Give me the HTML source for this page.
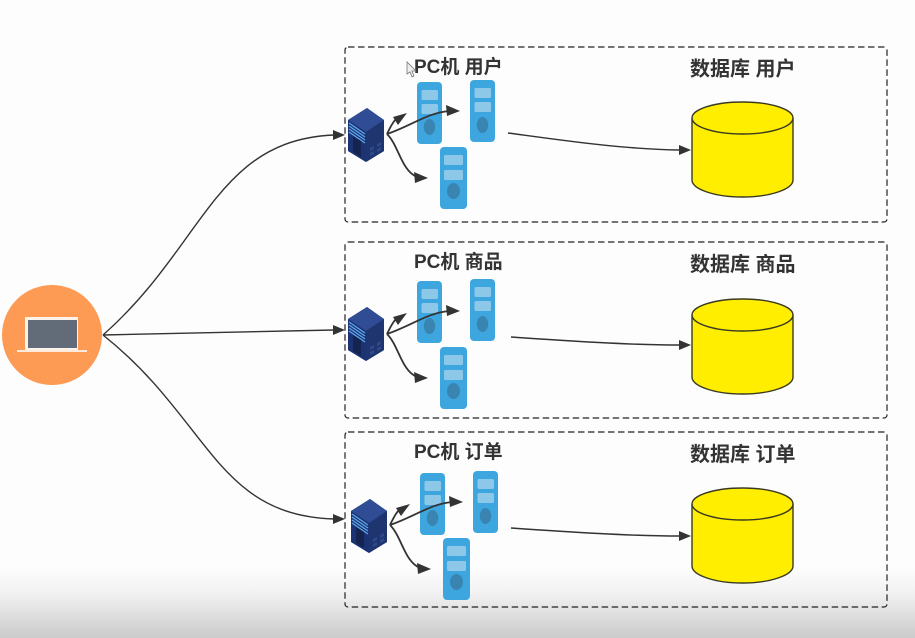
<!DOCTYPE html>
<html><head><meta charset="utf-8"><style>
html,body{margin:0;padding:0;background:#fff}
svg{display:block}
text{font-family:"Liberation Sans","Noto Sans CJK SC",sans-serif;font-weight:700;fill:#333}
</style></head><body>
<svg width="915" height="638" viewBox="0 0 915 638" xmlns="http://www.w3.org/2000/svg">
<defs>
<linearGradient id="bg" x1="0" y1="0" x2="0" y2="1"><stop offset="0" stop-color="#fdfdfd"/><stop offset="0.35" stop-color="#f2f2f2"/><stop offset="1" stop-color="#cbcbcb"/></linearGradient>
<g id="srv">
<path d="M0 12 L19 0 L36 12 L36 43 L18 54 L0 43Z" fill="#243c7c"/>
<path d="M0 12 L19 0 L36 12 L18 24Z" fill="#2f4c94"/>
<path d="M18 24 L36 12 L36 43 L18 54Z" fill="#1f3570"/>
<path d="M0 12 L18 24 L18 54 L0 43Z" fill="#1b3374"/>
<path d="M1 15L17 26M1 18L17 29M1 21L17 32M1 24L17 35" stroke="#5fa8ea" stroke-width="1.300"/>
<path d="M5 28 L13 33 L13 49 L5 44Z" fill="#14244f"/>
<path d="M22 40L26 38V41L22 43ZM29 36L33 34V37L29 39ZM22 45L26 43V46L22 48ZM29 41L33 39V42L29 44Z" fill="#2f4a8c"/>
</g>
<g id="pc1">
<rect x="0" y="0" width="25" height="62" rx="4" fill="#3ea6de"/>
<rect x="4.500" y="8" width="16.500" height="10" rx="1.500" fill="#8ec8e8"/>
<rect x="4.500" y="22" width="16.500" height="10" rx="1.500" fill="#8ec8e8"/>
<ellipse cx="12.500" cy="45" rx="5.700" ry="8" fill="#3a84b2"/>
</g>
<g id="pc2">
<rect x="0" y="0" width="27" height="62" rx="4" fill="#3ea6de"/>
<rect x="4" y="8" width="19" height="10" rx="1.500" fill="#8ec8e8"/>
<rect x="4" y="23" width="19" height="10" rx="1.500" fill="#8ec8e8"/>
<ellipse cx="13.500" cy="44" rx="6.500" ry="8" fill="#3a84b2"/>
</g>
<g id="cyl">
<path d="M0 16 V78 C0 87 22 95 50.500 95 C79 95 101 87 101 78 V16" fill="#ffee00" stroke="#3a3a20" stroke-width="1.400"/>
<ellipse cx="50.500" cy="16" rx="50.500" ry="16" fill="#ffee00" stroke="#3a3a20" stroke-width="1.400"/>
</g>
<g id="fan">
<path d="M0 0 C3 -6 5 -11 9 -15" fill="none" stroke="#333" stroke-width="1.800"/>
<path d="M20 -21 L6 -17 L11 -9Z" fill="#333"/>
<path d="M0 0 C24 -8 40 -21 62 -23" fill="none" stroke="#333" stroke-width="1.800"/>
<path d="M73 -23 L59 -29 L60 -18Z" fill="#333"/>
<path d="M0 0 C12 12 14 36 30 43" fill="none" stroke="#333" stroke-width="1.800"/>
<path d="M41 44 L27 38 L28 49Z" fill="#333"/>
</g>
<g id="ah"><path d="M0 0 L-12 -5 L-12 5Z" fill="#333"/></g>
</defs>
<rect width="915" height="638" fill="#fdfdfd"/>
<rect y="568" width="915" height="70" fill="url(#bg)"/>
<g fill="none" stroke="#222" stroke-width="1.200" stroke-dasharray="6.500 3.500">
<rect x="345" y="47" width="542" height="175" rx="3"/>
<rect x="345" y="242" width="542" height="176" rx="3"/>
<rect x="345" y="432" width="542" height="175" rx="3"/>
</g>
<circle cx="52" cy="335" r="50" fill="#fd9a54"/>
<rect x="25" y="317" width="53" height="33" fill="#fdf3ea"/>
<rect x="28" y="320" width="49" height="28" fill="#626c78"/>
<rect x="17" y="350" width="70" height="2" fill="#fdeadb"/>
<g fill="none" stroke="#333" stroke-width="1.400">
<path d="M103 335 C205 245 215 140 334 135"/>
<path d="M103 335 L334 330"/>
<path d="M103 335 C210 420 215 515 334 519"/>
<path d="M508 133 C560 140 620 149 679 150"/>
<path d="M511 337 C570 341 630 345 679 345"/>
<path d="M511 528 C570 532 630 536 679 536"/>
</g>
<use href="#ah" transform="translate(345,135)"/>
<use href="#ah" transform="translate(345,330)"/>
<use href="#ah" transform="translate(345,519)"/>
<use href="#ah" transform="translate(691,150)"/>
<use href="#ah" transform="translate(691,345)"/>
<use href="#ah" transform="translate(691,536)"/>
<use href="#pc1" x="417" y="82"/><use href="#pc1" x="470" y="80"/><use href="#pc2" x="440" y="147"/>
<use href="#srv" x="348" y="108"/><use href="#fan" x="387" y="134"/>
<use href="#pc1" x="417" y="281"/><use href="#pc1" x="470" y="279"/><use href="#pc2" x="440" y="347"/>
<use href="#srv" x="348" y="307"/><use href="#fan" x="387" y="334"/>
<use href="#pc1" x="420" y="473"/><use href="#pc1" x="473" y="471"/><use href="#pc2" x="443" y="538"/>
<use href="#srv" x="351" y="499"/><use href="#fan" x="390" y="525"/>
<use href="#cyl" x="692" y="102"/><use href="#cyl" x="692" y="299"/><use href="#cyl" x="692" y="488"/>
<g font-size="19">
<text x="414" y="73">PC机 用户</text>
<text x="414" y="268">PC机 商品</text>
<text x="414" y="458">PC机 订单</text>
</g>
<g font-size="20">
<text x="690" y="75.500">数据库 用户</text>
<text x="690" y="271">数据库 商品</text>
<text x="690" y="461">数据库 订单</text>
</g>
<path d="M407 62 L407 74 L410 72 L412 77 L414 76 L412 71 L416 71Z" fill="#eee" stroke="#777" stroke-width="0.800"/>
</svg>
</body></html>
